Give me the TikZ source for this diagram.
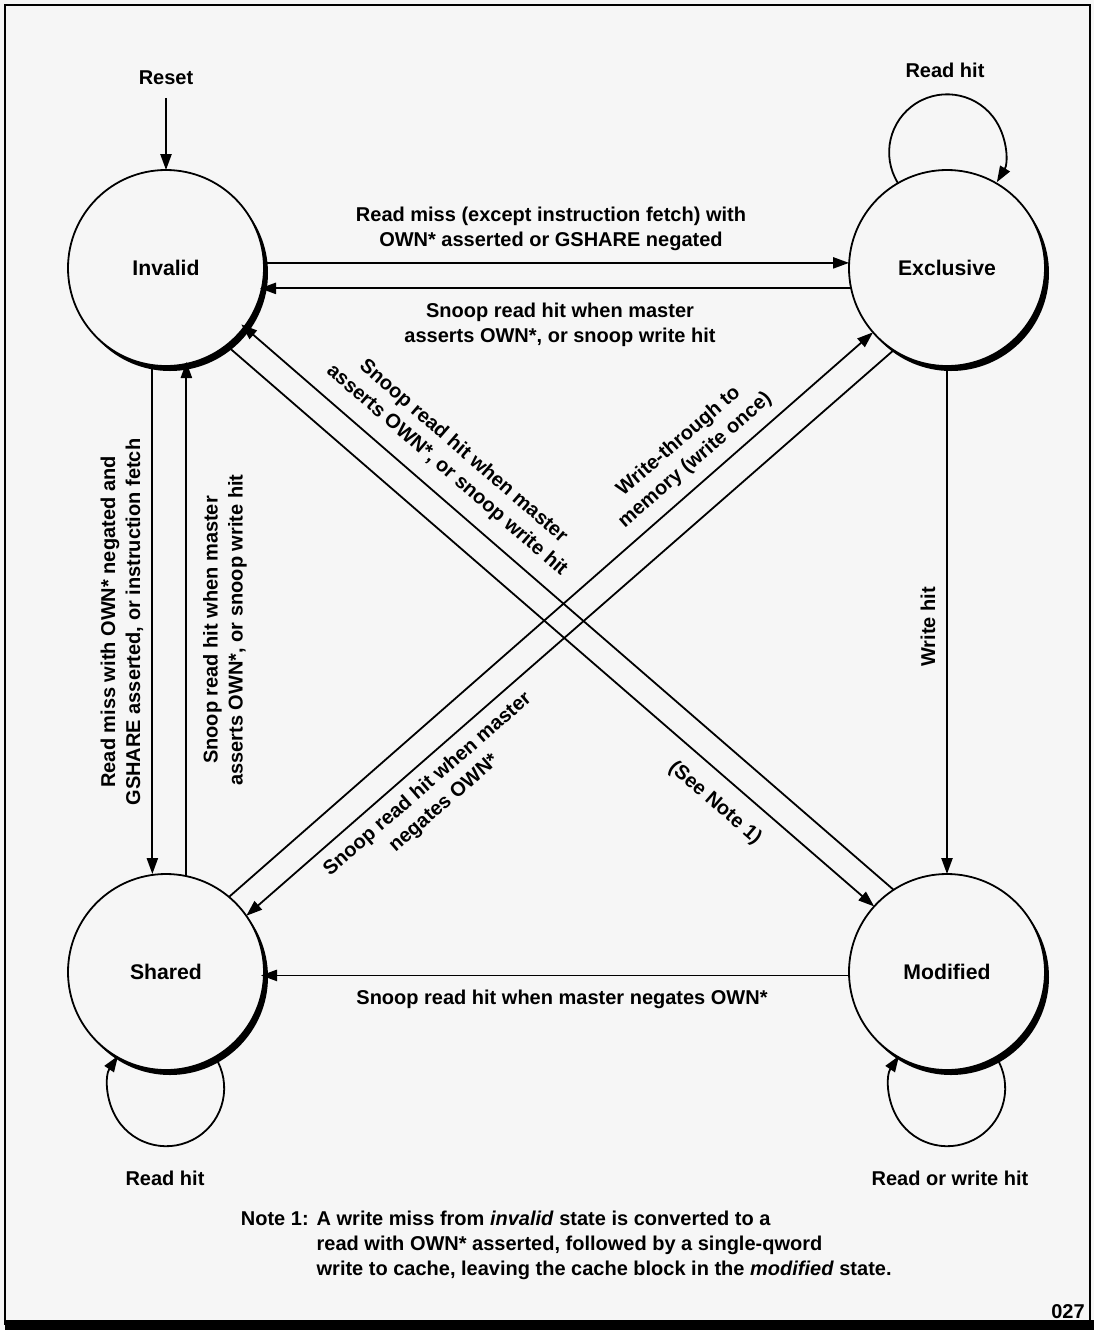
\documentclass[tikz,border=0pt]{standalone}
\usepackage{fontspec}
\setmainfont{Liberation Sans}
\usetikzlibrary{arrows.meta,shadows}
\definecolor{paper}{gray}{0.965}
\begin{document}
\begin{tikzpicture}[x=0.5pt,y=-0.5pt,
  >={Triangle[length=8pt,width=5.6pt]},
  line width=0.9pt,
  state/.style={circle,draw,fill=paper,minimum size=98pt,inner sep=0pt,outer sep=0pt,
     drop shadow={shadow xshift=2pt,shadow yshift=-2.5pt,fill=black,opacity=1},
     font=\fontsize{10.6}{12}\selectfont\bfseries},
  lbl/.style={align=center,inner sep=0pt,font=\fontsize{10}{12.5}\selectfont\bfseries},
  conn/.style={->},
]
\fill[paper] (0,0) rectangle (1094,1330);
\useasboundingbox (0,0) rectangle (1094,1330);
\draw[line width=0.8pt] (5,5) rectangle (1090,1324);
\fill (5,1320) rectangle (1094,1330);

% states
\node[state] (inv) at (166,268) {Invalid};
\node[state] (exc) at (947,268) {Exclusive};
\node[state] (sh)  at (166,972) {Shared};
\node[state] (mod) at (947,972) {Modified};

% reset
\node[lbl] (reset) at (166,78) {Reset};
\draw[conn,shorten <=6pt] (reset.south) -- (inv.north);

% Invalid <-> Exclusive
\draw[conn] (inv.3.5) -- (inv.3.5 -| exc.west);
\draw[conn,shorten >=-2pt] (exc.192.4) -- (exc.192.4 -| inv.east);
% Invalid <-> Shared
\draw[conn] (inv.262.4) -- (inv.262.4 |- sh.north);
\draw[conn,shorten >=-2pt] (sh.78.8) -- (sh.78.8 |- inv.south);
% Exclusive -> Modified
\draw[conn] (exc.south) -- (mod.north);
% Modified -> Shared
\draw[conn,shorten >=-1.5pt] (mod.182.9) -- (mod.182.9 -| sh.east);
% diagonals
\draw[conn] (inv.-52.2) -- (mod.138.7);
\draw[conn,shorten >=-2pt] (mod.123.4) -- (inv.-37.5);
\draw[conn] (sh.50.9) -- (exc.221.7);
\draw[conn] (exc.237.6) -- (sh.35.8);

% self loops
\draw[conn] (exc.120.3) arc[start angle=212.1,end angle=-31,radius=29pt];
\draw[conn] (sh.-60.4) arc[start angle=32.7,end angle=-213.9,radius=29pt];
\draw[conn] (mod.-60.4) arc[start angle=32.7,end angle=-213.9,radius=29pt];

% labels
\node[lbl] (l1) at (551,229) {Read miss (except instruction fetch) with\\OWN* asserted or GSHARE negated};
\node[lbl] (l2) at (560,325) {Snoop read hit when master\\asserts OWN*, or snoop write hit};
\node[lbl,rotate=90] (l3) at (122,622) {Read miss with OWN* negated and\\GSHARE asserted, or instruction fetch};
\node[lbl,rotate=90] (l4) at (225,630) {Snoop read hit when master\\asserts OWN*, or snoop write hit};
\node[lbl,rotate=-40.9] (l5) at (455,461) {Snoop read hit when master\\asserts OWN*, or snoop write hit};
\node[lbl,rotate=-40.9] (l6) at (715,803) {(See Note 1)};
\node[lbl,rotate=41] (l7) at (687,451) {Write-through to\\memory (write once)};
\node[lbl,rotate=41] (l8) at (436,794) {Snoop read hit when master\\negates OWN*};
\node[lbl,rotate=90] (l9) at (928,627) {Write hit};
\node[lbl] (l10) at (562,999) {Snoop read hit when master negates OWN*};
\node[lbl] (rh1) at (945,70) {Read hit};
\node[lbl] (rh2) at (165,1178) {Read hit};
\node[lbl] (rh3) at (950,1178) {Read or write hit};

\node[lbl,anchor=north west,align=left] (note) at (240,1207) {%
\begin{tabular}{@{}l@{\hspace{4pt}}l@{}}
Note 1: & A write miss from \textit{invalid} state is converted to a\\
 & read with OWN* asserted, followed by a single-qword\\
 & write to cache, leaving the cache block in the \textit{modified} state.
\end{tabular}};
\node[lbl] (num) at (1068,1312) {027};
\end{tikzpicture}
\end{document}
